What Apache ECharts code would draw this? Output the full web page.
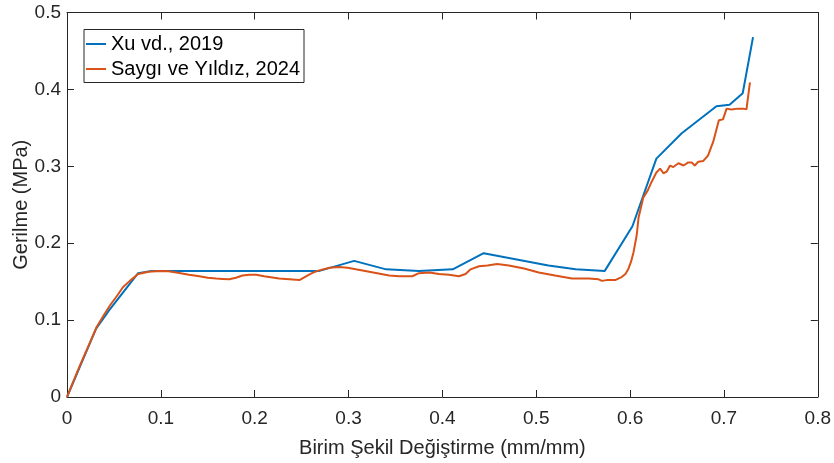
<!DOCTYPE html>
<html>
<head>
<meta charset="utf-8">
<script src="https://cdn.jsdelivr.net/npm/echarts@6/dist/echarts.min.js"></script>
<style>html,body{margin:0;padding:0;background:#fff}#c{width:834px;height:463px}</style>
</head>
<body>
<div id="c"></div>
<script>
var seriesNames = ['Xu vd., 2019', 'Saygı ve Yıldız, 2024'];
var xuStrain = [0,0.031,0.045,0.0758,0.09,0.269,0.306,0.340,0.375,0.411,0.444,0.513,0.542,0.573,0.6025,0.628,0.655,0.692,0.706,0.720,0.731];
var xuStress = [0,0.089,0.113,0.161,0.164,0.164,0.177,0.166,0.164,0.166,0.187,0.171,0.166,0.164,0.222,0.310,0.343,0.378,0.380,0.395,0.468];
var sayStrain = [0,0.007,0.0138,0.022,0.0316,0.039,0.0457,0.053,0.0598,0.067,0.0758,0.087,0.0988,0.108,0.1166,0.13,0.141,0.15,0.159,0.166,0.173,0.18,0.187,0.1945,0.2016,0.21,0.226,0.237,0.2476,0.2547,0.261,0.267,0.2795,0.290,0.299,0.3078,0.322,0.3433,0.354,0.368,0.375,0.3858,0.3964,0.407,0.4176,0.4247,0.430,0.439,0.448,0.4583,0.4708,0.487,0.5027,0.520,0.538,0.5558,0.5664,0.570,0.575,0.584,0.591,0.595,0.598,0.601,0.6036,0.607,0.609,0.614,0.619,0.623,0.628,0.632,0.6355,0.639,0.6426,0.646,0.6515,0.657,0.662,0.6656,0.669,0.6727,0.678,0.683,0.6886,0.6946,0.699,0.7028,0.708,0.715,0.7207,0.724,0.7277];
var sayStress = [0,0.021,0.041,0.064,0.091,0.106,0.119,0.131,0.143,0.151,0.160,0.163,0.164,0.1635,0.162,0.159,0.157,0.155,0.154,0.1535,0.153,0.155,0.158,0.159,0.159,0.157,0.154,0.153,0.152,0.157,0.161,0.164,0.168,0.169,0.168,0.166,0.163,0.158,0.157,0.157,0.161,0.162,0.160,0.159,0.157,0.160,0.166,0.170,0.171,0.173,0.171,0.167,0.162,0.158,0.154,0.154,0.153,0.151,0.152,0.152,0.156,0.160,0.166,0.176,0.188,0.210,0.233,0.259,0.269,0.280,0.292,0.297,0.291,0.293,0.301,0.299,0.304,0.301,0.305,0.305,0.301,0.306,0.307,0.314,0.332,0.360,0.361,0.375,0.374,0.375,0.375,0.374,0.409];
var xTicks = [0,0.1,0.2,0.3,0.4,0.5,0.6,0.7,0.8];
var yTicks = [0,0.1,0.2,0.3,0.4,0.5];

function zip(a,b){return a.map(function(v,i){return [v,b[i]];});}
var axisColor = '#262626';
var font = '"Liberation Sans", Arial, Helvetica, sans-serif';
function fmt(v){return String(Math.round(v*10)/10);}

var chart = echarts.init(document.getElementById('c'), null, {renderer:'canvas'});
var baseX = {type:'value', min:xTicks[0], max:xTicks[xTicks.length-1], interval:0.1,
  axisLine:{show:true, onZero:false, lineStyle:{color:axisColor, width:1}},
  axisTick:{show:true, inside:true, length:7, lineStyle:{color:axisColor}},
  splitLine:{show:false}};
var baseY = {type:'value', min:yTicks[0], max:yTicks[yTicks.length-1], interval:0.1,
  axisLine:{show:true, onZero:false, lineStyle:{color:axisColor, width:1}},
  axisTick:{show:true, inside:true, length:7, lineStyle:{color:axisColor}},
  splitLine:{show:false}};
chart.setOption({
  animation:false,
  backgroundColor:'#fff',
  grid:{left:67, right:15.5, top:12.5, bottom:62.5, containLabel:false},
  legend:{
    show:true, left:84, top:29.5, orient:'vertical',
    data:seriesNames,
    icon:'rect', itemWidth:20, itemHeight:2, itemGap:4,
    borderColor:axisColor, borderWidth:1, padding:[4,4,3,2],
    backgroundColor:'#fff',
    textStyle:{fontFamily:font, fontSize:20, color:'#000', lineHeight:21}
  },
  xAxis:[
    Object.assign({}, baseX, {position:'bottom',
      name:'Birim Şekil Değiştirme (mm/mm)', nameLocation:'middle', nameGap:41, nameMoveOverlap:false,
      nameTextStyle:{fontFamily:font, fontSize:20, color:axisColor},
      axisLabel:{show:true, margin:12, color:axisColor, fontFamily:font, fontSize:19, formatter:fmt}}),
    Object.assign({}, baseX, {position:'top', axisLabel:{show:false}})
  ],
  yAxis:[
    Object.assign({}, baseY, {position:'left',
      name:'Gerilme (MPa)', nameLocation:'middle', nameGap:36, nameMoveOverlap:false,
      nameTextStyle:{fontFamily:font, fontSize:20, color:axisColor},
      axisLabel:{show:true, margin:6, color:axisColor, fontFamily:font, fontSize:19, formatter:fmt, padding:[3,0,0,0]}}),
    Object.assign({}, baseY, {position:'right', axisLabel:{show:false}})
  ],
  series:[
    {name:seriesNames[0], type:'line', data:zip(xuStrain,xuStress), showSymbol:false, symbol:'none',
     lineStyle:{color:'#0072BD', width:2}, itemStyle:{color:'#0072BD'}, z:3},
    {name:seriesNames[1], type:'line', data:zip(sayStrain,sayStress), showSymbol:false, symbol:'none',
     lineStyle:{color:'#D95319', width:2}, itemStyle:{color:'#D95319'}, z:4}
  ]
});
</script>
</body>
</html>
